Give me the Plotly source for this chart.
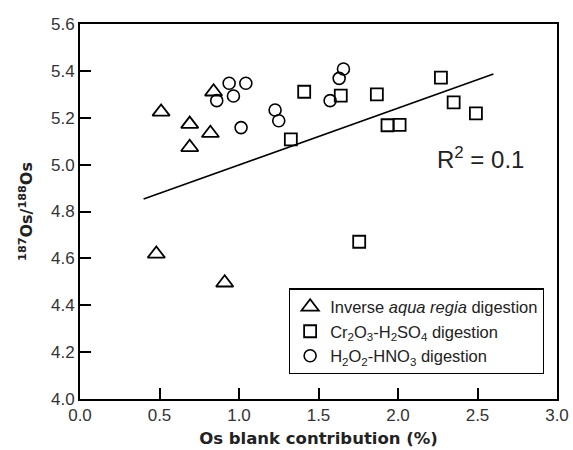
import plotly.graph_objects as go

# Inverse aqua regia digestion (triangles)
tri_x = [0.51, 0.69, 0.82, 0.69, 0.84, 0.48, 0.91]
tri_y = [5.225, 5.173, 5.134, 5.074, 5.311, 4.619, 4.496]

# Cr2O3-H2SO4 digestion (squares)
sq_x = [1.41, 1.64, 1.867, 2.27, 2.35, 2.49, 1.934, 2.01, 1.326, 1.756]
sq_y = [5.311, 5.294, 5.30, 5.371, 5.266, 5.219, 5.168, 5.17, 5.108, 4.671]

# H2O2-HNO3 digestion (circles)
ci_x = [0.938, 1.043, 0.86, 0.965, 1.013, 1.227, 1.25, 1.657, 1.63, 1.573]
ci_y = [5.347, 5.347, 5.273, 5.293, 5.158, 5.233, 5.187, 5.408, 5.368, 5.273]

# regression line endpoints
fit_x = [0.40, 2.60]
fit_y = [4.853, 5.387]

r2_text = "R<sup>2</sup> = 0.1"

fig = go.Figure()
fig.add_trace(go.Scatter(x=fit_x, y=fit_y, mode="lines", line=dict(color="black", width=1.6),
                         showlegend=False, hoverinfo="skip"))
fig.add_trace(go.Scatter(x=tri_x, y=tri_y, mode="markers",
                         name="Inverse <i>aqua regia</i> digestion",
                         marker=dict(symbol="triangle-up-open", size=15, color="black",
                                     line=dict(width=1.8, color="black"))))
fig.add_trace(go.Scatter(x=sq_x, y=sq_y, mode="markers",
                         name="Cr<sub>2</sub>O<sub>3</sub>-H<sub>2</sub>SO<sub>4</sub> digestion",
                         marker=dict(symbol="square-open", size=12, color="black",
                                     line=dict(width=1.8, color="black"))))
fig.add_trace(go.Scatter(x=ci_x, y=ci_y, mode="markers",
                         name="H<sub>2</sub>O<sub>2</sub>-HNO<sub>3</sub> digestion",
                         marker=dict(symbol="circle-open", size=12, color="black",
                                     line=dict(width=1.6, color="black"))))

fig.add_annotation(x=2.52, y=5.03, xref="x", yref="y", text=r2_text, showarrow=False,
                   font=dict(family="Liberation Sans, Arial", size=24, color="#222"))

axis_common = dict(showline=True, linecolor="black", linewidth=1.8, mirror=True,
                   ticks="inside", ticklen=11, tickwidth=1.5, tickcolor="black",
                   showgrid=False, zeroline=False, automargin=False,
                   tickfont=dict(family="Liberation Sans, Arial", size=17, color="#333"))

fig.update_xaxes(range=[0, 3], dtick=0.5, tickformat=".1f",
                 title=dict(text="<b>Os blank contribution (%)</b>", standoff=8,
                            font=dict(family="DejaVu Sans", size=16.5, color="#222")),
                 **axis_common)
fig.update_yaxes(range=[4.0, 5.6], dtick=0.2, tickformat=".1f",
                 title=dict(text="<b><sup>187</sup>Os/<sup>188</sup>Os</b>", standoff=14,
                            font=dict(family="DejaVu Sans", size=16, color="#222")),
                 **axis_common)

fig.update_layout(
    width=573, height=450,
    margin=dict(l=80, r=16, t=24, b=51),
    plot_bgcolor="white", paper_bgcolor="white",
    legend=dict(x=0.438, y=0.295, xanchor="left", yanchor="top",
                bordercolor="black", borderwidth=1.2, bgcolor="white",
                font=dict(family="Liberation Sans, Arial", size=16.5, color="#222"),
                tracegroupgap=0, itemwidth=30),
)

fig.write_html("out.html", config={"displayModeBar": False},
               post_script="document.body.style.margin='0px';")
